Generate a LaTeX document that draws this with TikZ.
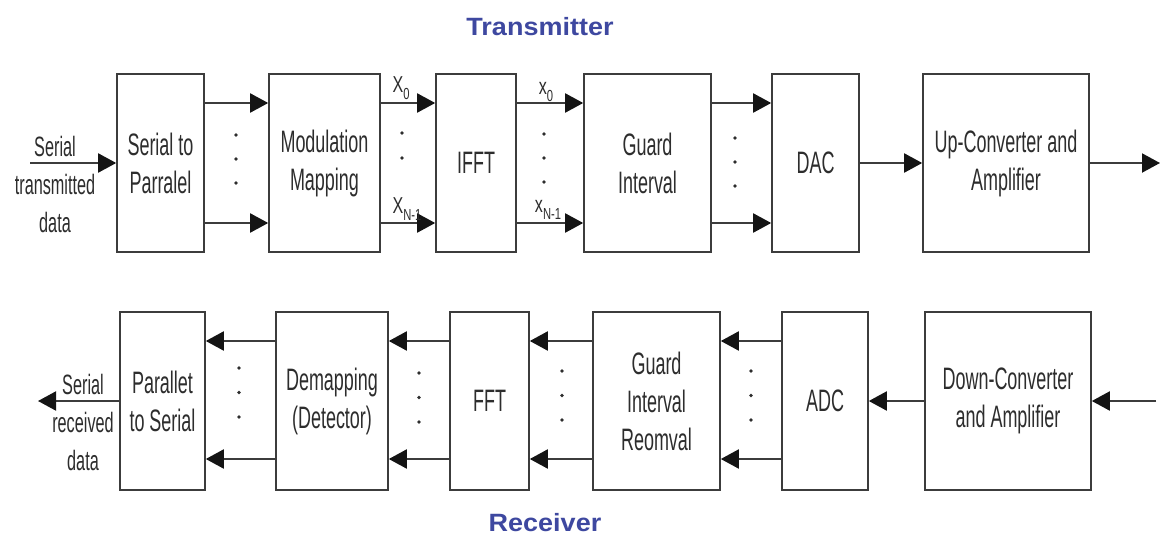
\documentclass[tikz,border=0pt]{standalone}
\usepackage{fontspec}
\setmainfont{Liberation Sans}
\newfontfamily\narrowfont{Liberation Sans}[FakeStretch=0.58]
\newfontfamily\labelfont{Liberation Sans}[FakeStretch=0.7]
\newfontfamily\titlefont{Liberation Sans}[FakeStretch=1.08]
\usetikzlibrary{arrows.meta}
\definecolor{linegray}{RGB}{60,60,60}
\definecolor{tipblack}{RGB}{20,20,20}
\definecolor{txtgray}{RGB}{45,45,45}
\definecolor{titleblue}{RGB}{62,72,160}
\newcommand{\sigX}[2]{#1\raisebox{-0.3em}{\fontsize{16}{16}\selectfont #2}}
\begin{document}
\begin{tikzpicture}[x=1pt,y=-1pt,
  blk/.style={draw=linegray, line width=1.6pt, fill=white, minimum height=178pt,
    inner sep=0pt, align=center, font=\narrowfont\fontsize{31}{38}\selectfont, text=txtgray},
  arr/.style={draw=linegray, line width=2pt, -{Triangle[length=18pt,width=19pt,color=tipblack]}},
  sig/.style={font=\labelfont\fontsize{23}{24}\selectfont, text=txtgray, inner sep=0pt},
  side/.style={font=\narrowfont\fontsize{28}{38}\selectfont, text=txtgray, align=center, inner sep=0pt},
  ttl/.style={font=\titlefont\bfseries\fontsize{25}{28}\selectfont, text=titleblue, inner sep=0pt}]
\useasboundingbox[fill=white] (0,0) rectangle (1164,538);

% Titles
\node[ttl] (tx) at (540,27) {Transmitter};
\node[ttl] (rx) at (545,523) {Receiver};

% Transmitter blocks
\node[blk, minimum width=87pt]  (s2p)  at (160.5,163) {Serial to\\Parralel};
\node[blk, minimum width=111pt] (mod)  at (324.5,163) {Modulation\\Mapping};
\node[blk, minimum width=80pt]  (ifft) at (476,163)   {IFFT};
\node[blk, minimum width=127pt] (gi)   at (647.5,163) {Guard\\Interval};
\node[blk, minimum width=87pt]  (dac)  at (815.5,163) {DAC};
\node[blk, minimum width=166pt] (up)   at (1006,163)  {Up-Converter and\\Amplifier};

% Receiver blocks
\node[blk, minimum width=85pt]  (p2s)  at (162.5,401) {Parallet\\to Serial};
\node[blk, minimum width=112pt] (dem)  at (332,401)   {Demapping\\(Detector)};
\node[blk, minimum width=79pt]  (fft)  at (489.5,401) {FFT};
\node[blk, minimum width=127pt] (gir)  at (656.5,401) {Guard\\Interval\\Reomval};
\node[blk, minimum width=86pt]  (adc)  at (825,401)   {ADC};
\node[blk, minimum width=166pt] (down) at (1008,401)  {Down-Converter\\and Amplifier};

% Free ends
\coordinate (tin)  at (30,163);
\coordinate (tout) at (1160,163);
\coordinate (rin)  at (1156,401);
\coordinate (rout) at (38,401);

% Transmitter connectors
\draw[arr] (tin) -- (s2p.west);
\foreach \a/\b in {s2p/mod, mod/ifft, ifft/gi, gi/dac}{
  \draw[arr] ([yshift=60pt]\a.east) -- ([yshift=60pt]\b.west);
  \draw[arr] ([yshift=-60pt]\a.east) -- ([yshift=-60pt]\b.west);
}
\draw[arr] (dac.east) -- (up.west);
\draw[arr] (up.east) -- (tout);

% Receiver connectors
\draw[arr] (rin) -- (down.east);
\draw[arr] (down.west) -- (adc.east);
\foreach \a/\b in {adc/gir, gir/fft, fft/dem, dem/p2s}{
  \draw[arr] ([yshift=60pt]\a.west) -- ([yshift=60pt]\b.east);
  \draw[arr] ([yshift=-58pt]\a.west) -- ([yshift=-58pt]\b.east);
}
\draw[arr] (p2s.west) -- (rout);

% Dots
\foreach \x/\ya in {236/135, 544/134, 735/138}{
  \foreach \k in {0,1,2}{ \fill[txtgray] (\x,\ya+24*\k) circle (1.8pt); }
}
\foreach \ya in {133,158}{ \fill[txtgray] (402,\ya) circle (1.8pt); }
\foreach \x/\ya in {239/368, 419/373, 562/371, 751/371}{
  \foreach \k in {0,1,2}{ \fill[txtgray] (\x,\ya+24.5*\k) circle (1.8pt); }
}

% Signal labels
\node[sig] (X0)  at (401,88)  {\sigX{X}{0}};
\node[sig] (XN)  at (407,209) {\sigX{X}{N-1}};
\node[sig] (x0)  at (546,92)  {\sigX{x}{0}};
\node[sig] (xN)  at (548,210) {\sigX{x}{N-1}};

% Side labels
\node[side] (tinlbl)  at (55,184) {Serial\\transmitted\\data};
\node[side] (routlbl) at (83,422) {Serial\\received\\data};
\end{tikzpicture}
\end{document}
